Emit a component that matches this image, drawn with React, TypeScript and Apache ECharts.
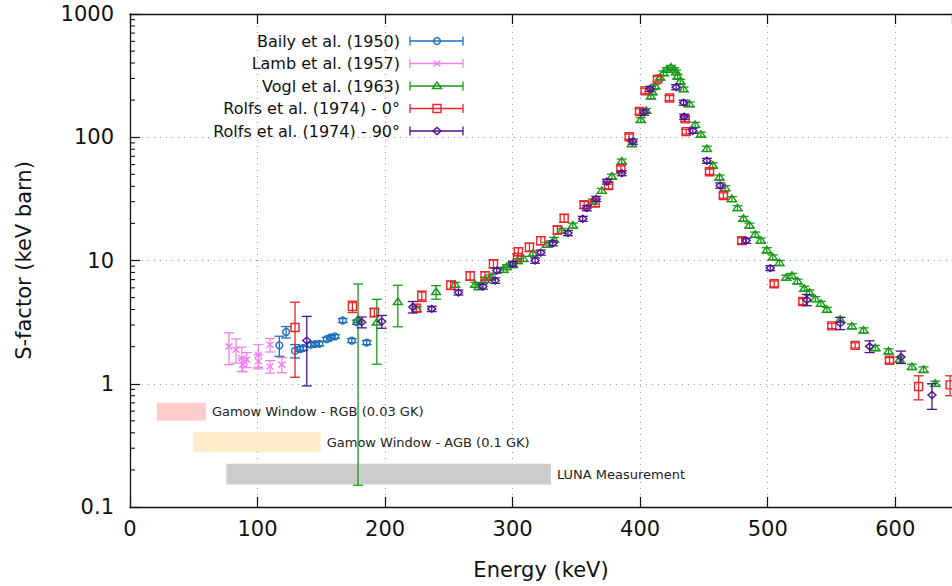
import React, { useEffect, useRef } from "react";
import * as echarts from "echarts";

// [energy keV, S-factor keV barn, error]
const baily: number[][] = [
  [117.1, 2.05, 0.38], [122.4, 2.63, 0.28], [129.4, 1.85, 0.23], [133.3, 1.91, 0.08],
  [135.9, 1.95, 0.08], [141.7, 2.07, 0.08], [145.1, 2.1, 0.08], [148.5, 2.11, 0.08],
  [154.3, 2.3, 0.08], [157.4, 2.38, 0.08], [160.8, 2.42, 0.08], [166.8, 3.26, 0.12],
  [173.9, 2.24, 0.08], [177.8, 3.16, 0.12], [185.6, 2.16, 0.08],
];
const lamb: number[][] = [
  [77.6, 2.01, 0.58], [83.1, 1.89, 0.42], [87.6, 1.62, 0.36], [88.5, 1.43, 0.18],
  [91.5, 1.57, 0.22], [100.6, 1.72, 0.36], [100.6, 1.52, 0.2], [109.8, 2.07, 0.26],
  [109.8, 1.38, 0.16], [119.0, 1.43, 0.2],
];
const vogl: number[][] = [
  [178.8, 3.3, 3.15], [193.5, 3.14, 1.7], [210.0, 4.6, 1.7], [224.8, 4.03, 0.2],
  [240.0, 5.55, 0.7], [254.9, 6.35, 0.3], [270.6, 6.35, 0.3], [273.5, 6.1, 0.3],
  [278.4, 6.97, 0.35], [283.0, 7.3, 0.35], [292.8, 8.4, 0.4], [295.4, 8.84, 0.4],
  [300.0, 9.2, 0.45], [304.0, 9.9, 0.45], [308.5, 10.3, 0.5], [316.0, 11.4, 0.55],
  [326.8, 13.4, 0.6], [332.5, 14.7, 0.7], [338.6, 17.4, 0.8], [347.2, 19.2, 0.9],
  [362.9, 30.1, 1.4], [369.9, 36.7, 1.7], [377.8, 48, 2.2], [385.6, 63.5, 3],
  [393.5, 87.9, 4], [400.5, 138, 6], [404.7, 164, 7], [408.4, 214, 9],
  [409.6, 232, 10], [411.8, 258, 11], [415.7, 305, 13], [418.3, 331, 14],
  [420.9, 352, 15], [424.1, 368, 15], [426.7, 352, 15], [428.2, 337, 14],
  [429.3, 311, 13], [431.4, 283, 12], [434.0, 245, 10], [438.7, 185, 8],
  [443.1, 126, 6], [447.6, 105, 5], [452.3, 80.5, 4], [457.0, 59, 3],
  [462.2, 47.1, 2.2], [466.7, 38.6, 1.8], [471.9, 31.5, 1.5], [476.3, 26.6, 1.2],
  [481.0, 21.8, 1], [485.7, 19.2, 0.9], [490.2, 16.2, 0.8], [494.6, 14.5, 0.7],
  [499.3, 12.1, 0.6], [504.0, 10.6, 0.5], [509.2, 9.55, 0.45], [514.5, 7.25, 0.35],
  [519.0, 7.51, 0.35], [523.4, 6.76, 0.3], [528.6, 5.9, 0.28], [532.8, 5.5, 0.26],
  [537.3, 4.86, 0.23], [541.7, 4.45, 0.21], [546.4, 3.98, 0.19], [556.9, 3.3, 0.16],
  [566.0, 2.92, 0.14], [575.2, 2.71, 0.13], [584.3, 1.95, 0.1], [594.8, 1.83, 0.09],
  [603.4, 1.57, 0.08], [613.1, 1.37, 0.07], [622.2, 1.3, 0.07], [631.4, 1.0, 0.05],
];
const rolfs0: number[][] = [
  [129.4, 2.86, 1.73], [174.4, 4.23, 0.45], [191.6, 3.79, 0.3], [224.3, 4.1, 0.3],
  [228.8, 5.15, 0.5], [251.5, 6.31, 0.5], [266.7, 7.51, 0.6], [278.4, 7.51, 0.6],
  [285.0, 9.4, 0.7], [303.8, 10.6, 0.8], [304.5, 11.8, 0.9], [313.2, 12.8, 1.0],
  [322.1, 14.5, 1.1], [335.1, 17.7, 1.3], [340.4, 22.0, 1.6], [356.1, 28.3, 1.8],
  [364.7, 29.2, 1.8], [375.2, 40.6, 2.5], [384.9, 55.5, 3], [391.4, 101, 5],
  [399.5, 162, 8], [403.9, 238, 12], [413.6, 296, 15], [423.0, 208, 10],
  [435.3, 141, 7], [436.1, 111, 5], [454.4, 52.5, 2.6], [465.3, 33.7, 1.7],
  [479.7, 14.5, 0.8], [505.1, 6.47, 0.35], [527.6, 4.65, 0.25], [550.3, 2.95, 0.15],
  [568.6, 2.05, 0.1], [595.5, 1.55, 0.08], [618.3, 0.95, 0.21], [643.0, 0.98, 0.18],
];
const rolfs90: number[][] = [
  [138.6, 2.24, 1.28], [181.7, 3.16, 0.32], [197.4, 3.2, 0.38], [221.7, 4.2, 0.45],
  [236.6, 4.05, 0.2], [257.5, 5.5, 0.25], [276.7, 6.15, 0.3], [286.3, 6.88, 0.35],
  [287.6, 8.3, 0.4], [300.2, 9.4, 0.45], [317.6, 10.0, 0.5], [322.1, 11.6, 0.55],
  [331.5, 13.8, 0.65], [343.4, 16.7, 0.8], [355.0, 21.8, 1.0], [358.2, 26.6, 1.3],
  [365.5, 31.6, 1.5], [373.9, 43.7, 2], [385.6, 51.1, 2.4], [394.3, 92.3, 4.5],
  [403.1, 159, 8], [407.8, 247, 12], [428.2, 255, 12], [434.0, 191, 9],
  [434.5, 147, 7], [441.3, 113, 5.5], [452.3, 64.4, 3], [462.7, 40.6, 2],
  [483.1, 14.5, 0.7], [502.0, 8.67, 0.4], [530.7, 4.8, 0.5], [556.9, 3.1, 0.35],
  [579.9, 2.01, 0.22], [604.5, 1.65, 0.19], [628.8, 0.81, 0.19],
];

const seriesNames = [
  "Baily et al. (1950)",
  "Lamb et al. (1957)",
  "Vogl et al. (1963)",
  "Rolfs et al. (1974) - 0°",
  "Rolfs et al. (1974) - 90°",
];

// [E from, E to, S low, S high]
const bandRanges: number[][] = [
  [21, 59.5, 0.5, 0.7],
  [49.5, 149.5, 0.28, 0.405],
  [75.5, 330, 0.152, 0.224],
];
const bandNames = ["Gamow Window - RGB (0.03 GK)", "Gamow Window - AGB (0.1 GK)", "LUNA Measurement"];

const yMinorTicks: number[] = [
  0.2, 0.3, 0.4, 0.5, 0.6, 0.7, 0.8, 0.9,
  2, 3, 4, 5, 6, 7, 8, 9,
  20, 30, 40, 50, 60, 70, 80, 90,
  200, 300, 400, 500, 600, 700, 800, 900,
];

const FONT = "'DejaVu Sans', sans-serif";
const COLORS = ["#1f6fb8", "#ee82ee", "#1a9a1a", "#e8262b", "#4e1390"];
const BAND_COLORS = ["#ffcccc", "#ffecc9", "#cccccc"];
const KINDS = ["circle", "cross", "triangle", "square", "diamond"];

function markerEls(kind: string, cx: number, cy: number, color: string): any[] {
  const st = { fill: "none", stroke: color, lineWidth: 1.4 };
  switch (kind) {
    case "circle":
      return [{ type: "circle", shape: { cx, cy, r: 3.4 }, style: st }];
    case "cross":
      return [
        { type: "line", shape: { x1: cx - 3.5, y1: cy - 3, x2: cx + 3.5, y2: cy + 3 }, style: st },
        { type: "line", shape: { x1: cx - 3.5, y1: cy + 3, x2: cx + 3.5, y2: cy - 3 }, style: st },
      ];
    case "triangle":
      return [{ type: "polygon", shape: { points: [[cx - 4.5, cy + 2.5], [cx + 4.5, cy + 2.5], [cx, cy - 4]] }, style: st }];
    case "square":
      return [{ type: "rect", shape: { x: cx - 4, y: cy - 4, width: 8, height: 8 }, style: st }];
    default:
      return [{ type: "polygon", shape: { points: [[cx - 4, cy], [cx, cy - 3.5], [cx + 4, cy], [cx, cy + 3.5]] }, style: st }];
  }
}

function errorSeries(name: string, data: number[][], color: string, kind: string, z: number) {
  return {
    name,
    type: "custom",
    data,
    encode: { x: 0, y: 1 },
    clip: true,
    z,
    renderItem: (params: any, api: any) => {
      const x = api.value(0);
      const y = api.value(1);
      const d = api.value(2);
      const p = api.coord([x, y]);
      const top = api.coord([x, y + d]);
      const bot = api.coord([x, Math.max(y - d, 0.01)]);
      const st = { stroke: color, lineWidth: 1.3, fill: "none" };
      const children: any[] = [
        { type: "line", shape: { x1: p[0], y1: top[1], x2: p[0], y2: bot[1] }, style: st },
        { type: "line", shape: { x1: p[0] - 5, y1: top[1], x2: p[0] + 5, y2: top[1] }, style: st },
        { type: "line", shape: { x1: p[0] - 5, y1: bot[1], x2: p[0] + 5, y2: bot[1] }, style: st },
        ...markerEls(kind, p[0], p[1], color),
      ];
      return { type: "group", children };
    },
  };
}

export default function App() {
  const ref = useRef<HTMLDivElement>(null);
  useEffect(() => {
    if (!ref.current) return;
    const chart = echarts.init(ref.current, undefined, { renderer: "svg" });
    const allData = [baily, lamb, vogl, rolfs0, rolfs90];

    const legendEls: any[] = [];
    seriesNames.forEach((n, i) => {
      const y = 41 + 22.5 * i;
      const c = COLORS[i];
      const st = { stroke: c, lineWidth: 1.3, fill: "none" };
      legendEls.push({
        type: "text", x: 400, y,
        style: { text: n, fill: "#111", fontSize: 16, fontFamily: FONT, align: "right", verticalAlign: "middle" },
      });
      legendEls.push({ type: "line", shape: { x1: 410, y1: y, x2: 463, y2: y }, style: st });
      legendEls.push({ type: "line", shape: { x1: 410, y1: y - 4.5, x2: 410, y2: y + 4.5 }, style: st });
      legendEls.push({ type: "line", shape: { x1: 463, y1: y - 4.5, x2: 463, y2: y + 4.5 }, style: st });
      markerEls(KINDS[i], 437, y, c).forEach((e) => legendEls.push(e));
    });

    const option: any = {
      animation: false,
      textStyle: { fontFamily: FONT },
      grid: { left: 130, top: 14, right: 0, bottom: 79 },
      xAxis: [
        {
          type: "value", min: 0, max: 644.5, interval: 100,
          name: "Energy (keV)", nameLocation: "middle", nameGap: 52,
          nameTextStyle: { fontSize: 21, color: "#111", fontFamily: FONT },
          axisLine: { show: true, lineStyle: { color: "#111", width: 1.3 } },
          axisTick: { show: true, inside: true, length: 10, lineStyle: { color: "#111", width: 1.2 } },
          axisLabel: { fontSize: 21, color: "#111", margin: 11, showMaxLabel: false, fontFamily: FONT },
          splitLine: { show: true, lineStyle: { color: "#999", type: [1, 5], width: 1 } },
        },
        {
          type: "value", min: 0, max: 644.5, interval: 100, position: "top",
          axisLine: { show: true, lineStyle: { color: "#111", width: 1.3 } },
          axisTick: { show: true, inside: true, length: 10, lineStyle: { color: "#111", width: 1.2 } },
          axisLabel: { show: false },
          splitLine: { show: false },
        },
      ],
      yAxis: {
        type: "log", logBase: 10, min: 0.1, max: 1000,
        name: "S-factor (keV barn)", nameLocation: "middle", nameGap: 96,
        nameTextStyle: { fontSize: 21, color: "#111", fontFamily: FONT },
        axisLine: { show: true, lineStyle: { color: "#111", width: 1.3 } },
        axisTick: { show: true, inside: true, length: 10, lineStyle: { color: "#111", width: 1.2 } },
        axisLabel: {
          fontSize: 21, color: "#111", margin: 16, fontFamily: FONT,
          formatter: (v: number) => (v < 1 ? v.toFixed(1) : String(Math.round(v))),
        },
        splitLine: { show: true, lineStyle: { color: "#999", type: [1, 5], width: 1 } },
      },
      graphic: legendEls,
      series: [
        {
          name: "bands",
          type: "custom",
          data: bandRanges,
          encode: { x: [0, 1], y: [2, 3] },
          z: 1,
          renderItem: (params: any, api: any) => {
            const tl = api.coord([api.value(0), api.value(3)]);
            const br = api.coord([api.value(1), api.value(2)]);
            const i = params.dataIndex;
            return {
              type: "group",
              children: [
                { type: "rect", shape: { x: tl[0], y: tl[1], width: br[0] - tl[0], height: br[1] - tl[1] }, style: { fill: BAND_COLORS[i] } },
                {
                  type: "text",
                  style: {
                    text: bandNames[i], x: br[0] + 6, y: (tl[1] + br[1]) / 2,
                    fill: "#222", fontSize: 13, fontFamily: FONT, align: "left", verticalAlign: "middle",
                  },
                },
              ],
            };
          },
        },
        {
          name: "minorTicks",
          type: "custom",
          data: yMinorTicks.map((v) => [0, v]),
          encode: { x: 0, y: 1 },
          z: 3,
          renderItem: (params: any, api: any) => {
            const p = api.coord([0, api.value(1)]);
            return { type: "line", shape: { x1: p[0], y1: p[1], x2: p[0] + 5, y2: p[1] }, style: { stroke: "#111", lineWidth: 1.1 } };
          },
        },
        ...allData.map((d, i) => errorSeries(seriesNames[i], d, COLORS[i], KINDS[i], 4 + i)),
      ],
    };
    chart.setOption(option);
    return () => chart.dispose();
  }, []);
  return (
    <div
      ref={ref}
      style={{ position: "fixed", left: 0, top: 0, width: 952, height: 586, background: "#fff" }}
    />
  );
}
